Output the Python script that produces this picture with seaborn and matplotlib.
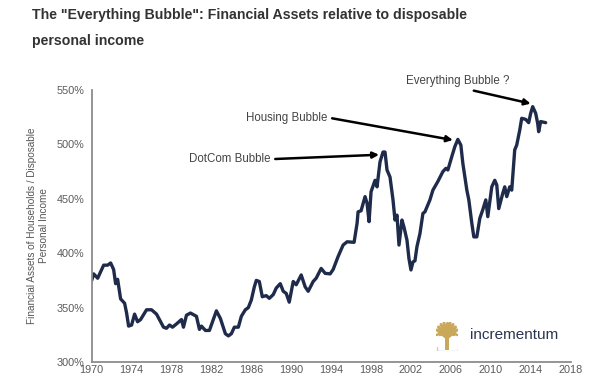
import matplotlib
matplotlib.use("Agg")
import matplotlib.pyplot as plt
import seaborn as sns
import pandas as pd
from matplotlib.patches import Rectangle
from matplotlib.lines import Line2D

# ---- data ----
years = [1970.0, 1970.2, 1970.6, 1971.2, 1971.6, 1971.9, 1972.2, 1972.4, 1972.6, 1972.9,
         1973.3, 1973.5, 1973.7, 1974.0, 1974.3, 1974.6, 1974.9, 1975.5, 1976.0, 1976.5,
         1977.2, 1977.5, 1977.8, 1978.1, 1978.5, 1979.0, 1979.2, 1979.5, 1979.9, 1980.5,
         1980.8, 1981.0, 1981.4, 1981.8, 1982.5, 1982.9, 1983.4, 1983.7, 1984.0, 1984.3,
         1984.7, 1985.0, 1985.4, 1985.7, 1986.0, 1986.3, 1986.5, 1986.8, 1987.1, 1987.5,
         1987.8, 1988.2, 1988.5, 1988.9, 1989.2, 1989.5, 1989.8, 1990.2, 1990.5, 1991.0,
         1991.4, 1991.7, 1992.2, 1992.5, 1993.0, 1993.4, 1993.9, 1994.2, 1994.7, 1995.2,
         1995.6, 1996.3, 1996.6, 1996.7, 1997.0, 1997.4, 1997.6, 1997.8, 1998.0, 1998.4,
         1998.6, 1998.9, 1999.2, 1999.4, 1999.6, 1999.9, 2000.2, 2000.4, 2000.6, 2000.8,
         2001.1, 2001.3, 2001.6, 2001.8, 2002.0, 2002.2, 2002.4, 2002.6, 2002.9, 2003.2,
         2003.4, 2003.9, 2004.2, 2004.7, 2005.2, 2005.5, 2005.7, 2006.1, 2006.4, 2006.7,
         2007.0, 2007.2, 2007.6, 2007.8, 2008.1, 2008.3, 2008.6, 2008.9, 2009.2, 2009.5,
         2009.7, 2010.1, 2010.4, 2010.6, 2010.8, 2011.2, 2011.4, 2011.6, 2011.9, 2012.1,
         2012.4, 2012.6, 2012.9, 2013.1, 2013.5, 2013.8, 2014.0, 2014.2, 2014.5, 2014.7,
         2014.8, 2015.0, 2015.5]
ratio = [375, 381, 377, 389, 389, 391, 385, 372, 376, 358,
         354, 345, 333, 334, 344, 337, 339, 348, 348, 344,
         332, 331, 334, 332, 335, 339, 332, 343, 345, 342,
         330, 333, 329, 329, 347, 340, 326, 324, 326, 332,
         332, 342, 348, 350, 357, 369, 375, 374, 360, 361,
         358.5, 362, 368, 372, 365, 363, 355, 374, 371, 380,
         369, 365, 374, 377, 386, 381.5, 381, 385, 397, 407.5,
         410.5, 410, 427.5, 438, 439, 452, 446, 429, 456.5, 467,
         461, 484, 493, 493, 476.5, 470, 449, 430.5, 435, 407.5,
         430.5, 424, 412, 395, 384.6, 392, 393, 406, 418, 436.6,
         438, 449, 458, 466, 475, 478, 476.5, 489, 498, 504.6,
         499.4, 482.6, 458, 449, 427.5, 415, 415, 432, 440, 449,
         433.6, 461, 467, 462.7, 441, 455, 461, 452, 461, 458,
         495, 499.4, 513, 524, 523, 520, 528.6, 534.7, 528.6, 519.4,
         511.7, 521, 520]

x_ticks = [1970, 1974, 1978, 1982, 1986, 1990, 1994, 1998, 2002, 2006, 2010, 2014, 2018]
y_ticks = [300, 350, 400, 450, 500, 550]
y_tick_labels = ["300%", "350%", "400%", "450%", "500%", "550%"]

annotations = [
    # text, text position (year, value), arrow tip (year, value)
    ("DotCom Bubble", (1987.9, 486.6), (1998.8, 490.5)),
    ("Housing Bubble", (1993.6, 524.0), (2006.2, 504.0)),
    ("Everything Bubble ?", (2006.65, 558.5), (2014.0, 537.5)),
]

# ---- styling ----
sns.set_theme(style="white")
plt.rcParams["font.family"] = ["Liberation Sans", "DejaVu Sans"]

fig = plt.figure(figsize=(6.0, 3.87), dpi=100)
ax = fig.add_axes([0.1528, 0.0646, 0.7982, 0.7028])

df = pd.DataFrame({"year": years, "ratio": ratio})
sns.lineplot(data=df, x="year", y="ratio", ax=ax, color="#1f2b4a", linewidth=2.4)

ax.set_xlim(1970, 2018)
ax.set_ylim(300, 550)
ax.set_xticks(x_ticks)
ax.set_xticklabels([str(t) for t in x_ticks])
ax.set_yticks(y_ticks)
ax.set_yticklabels(y_tick_labels)
ax.set_xlabel("")
ax.set_ylabel("Financial Assets of Households / Disposable\nPersonal Income",
              fontsize=7.2, color="#555555", labelpad=6, linespacing=1.25)

for s in ["top", "right"]:
    ax.spines[s].set_visible(False)
for s in ["left", "bottom"]:
    ax.spines[s].set_color("#8c8c8c")
    ax.spines[s].set_linewidth(1.3)
ax.tick_params(axis="both", labelsize=7.8, colors="#5a5a5a", length=3, width=1.0,
               direction="out", pad=2)
ax.tick_params(axis="x", direction="in", length=3)
ax.tick_params(axis="both", color="#8c8c8c")
ax.grid(False)

# annotations
for i, (txt, tpos, tip) in enumerate(annotations):
    if i < 2:
        ax.annotate("", xy=tip, xytext=(tpos[0] + 0.5, tpos[1]),
                    arrowprops=dict(arrowstyle="-|>", color="black", lw=1.8,
                                    mutation_scale=9, shrinkA=0, shrinkB=0))
        ax.text(tpos[0], tpos[1], txt, ha="right", va="center", fontsize=8.3,
                color="#444444")
    else:
        ax.text(tpos[0], tpos[1], txt, ha="center", va="center", fontsize=8.3,
                color="#444444", clip_on=False)
        ax.annotate("", xy=tip, xytext=(2008.3, 549.4),
                    arrowprops=dict(arrowstyle="-|>", color="black", lw=1.8,
                                    mutation_scale=9, shrinkA=0, shrinkB=0),
                    annotation_clip=False)

# title
fig.text(32 / 600, 1 - 15 / 387,
         'The "Everything Bubble": Financial Assets relative to disposable',
         fontsize=10.2, fontweight="bold", color="#333333", ha="left", va="center")
fig.text(32 / 600, 1 - 41.5 / 387, "personal income",
         fontsize=10.2, fontweight="bold", color="#333333", ha="left", va="center")

# logo (incrementum)
lax = fig.add_axes([436 / 600, 1 - 351 / 387, 22 / 600, 29 / 387])
lax.set_xlim(0, 22)
lax.set_ylim(0, 29)
lax.axis("off")
gold = "#c9a85a"
lax.add_patch(Rectangle((9.0, 1), 4.0, 14, color=gold, lw=0))
for dx, top in [(-10, 21), (-8.5, 24), (-6, 26.5), (-3, 28), (0, 28.5), (3, 28),
                (6, 26.5), (8.5, 24), (10, 21)]:
    lax.add_line(Line2D([11, 11 + dx], [13, top], color=gold, lw=2.2))
for dx in [-10.5, -7, 7, 10.5]:
    lax.add_line(Line2D([11 + dx * 0.5, 11 + dx], [18, 16], color=gold, lw=1.8))
lax.add_line(Line2D([0.5, 0.5, 8], [4.5, 0.5, 0.5], color="#c8ccd6", lw=1.0))
lax.add_line(Line2D([21.5, 21.5, 14], [4.5, 0.5, 0.5], color="#c8ccd6", lw=1.0))

fig.text(470 / 600, 1 - 335 / 387, "incrementum", fontsize=11, color="#2b3550",
         ha="left", va="center")

fig.savefig("out.png", dpi=100, facecolor="white")
